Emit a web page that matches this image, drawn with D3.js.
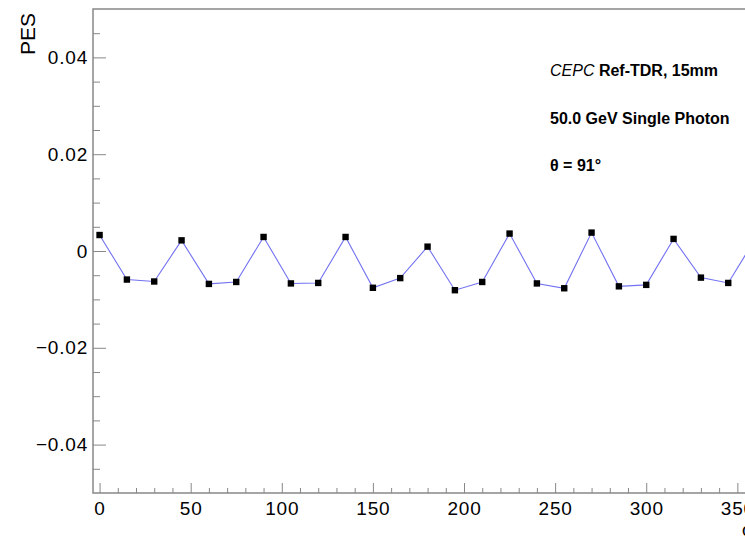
<!DOCTYPE html>
<html>
<head>
<meta charset="utf-8">
<script src="https://cdn.jsdelivr.net/npm/d3@7"></script>
<style>
html, body { margin: 0; padding: 0; background: #fff; overflow: hidden; }
svg { display: block; font-family: "Liberation Sans", Arial, sans-serif; }
</style>
</head>
<body>
<script>
// ---- data ----
const phiValues = [0, 15, 30, 45, 60, 75, 90, 105, 120, 135, 150, 165, 180,
                   195, 210, 225, 240, 255, 270, 285, 300, 315, 330, 345, 360];
const pesValues = [0.0033, -0.0059, -0.0063, 0.0022, -0.0068, -0.0064, 0.0029,
                   -0.0067, -0.0066, 0.0029, -0.0076, -0.0056, 0.0009,
                   -0.0081, -0.0064, 0.0036, -0.0067, -0.0077, 0.0038,
                   -0.0073, -0.0070, 0.0025, -0.0055, -0.0066, 0.0026];
const xMajorTicks = [0, 50, 100, 150, 200, 250, 300, 350];
const yMajorTicks = [-0.04, -0.02, 0, 0.02, 0.04];
const yTickLabels = ["\u22120.04", "\u22120.02", "0", "0.02", "0.04"];
const xDomain = [-3.6, 363.6];
const yDomain = [-0.05, 0.05];
const annotations = ["50.0 GeV Single Photon", "\u03b8 = 91\u00b0"];

// ---- layout ----
const W = 800, H = 542;
const padL = 93, padT = 9;
const padB = 493;
const xScale = d3.scaleLinear().domain(xDomain).range([padL, 99.7 + 367.2 * 1.804]);
const padR = xScale.range()[1];
const yScale = d3.scaleLinear().domain(yDomain).range([padB, padT]);

const svg = d3.select("body").append("svg").attr("width", W).attr("height", H);

const frameColor = "#888";

// frame
svg.append("rect")
  .attr("x", padL).attr("y", padT)
  .attr("width", padR - padL).attr("height", padB - padT)
  .attr("fill", "none").attr("stroke", frameColor).attr("stroke-width", 1.5);

// x minor ticks
const xMinor = d3.range(0, 361, 10).filter(v => v % 50 !== 0);
svg.append("g").attr("transform", `translate(0,${padB})`)
  .call(d3.axisBottom(xScale).tickValues(xMinor).tickSize(-5).tickSizeOuter(0).tickFormat(""))
  .call(g => g.select(".domain").remove())
  .call(g => g.selectAll("line").attr("stroke", frameColor));

// x major ticks
svg.append("g").attr("transform", `translate(0,${padB})`)
  .call(d3.axisBottom(xScale).tickValues(xMajorTicks).tickSize(-10).tickSizeOuter(0).tickPadding(9).tickFormat(d3.format("d")))
  .call(g => g.select(".domain").remove())
  .call(g => g.selectAll("line").attr("stroke", frameColor))
  .call(g => g.selectAll("text").attr("font-size", 19).attr("letter-spacing", 0.8).attr("fill", "#000")
    .attr("font-family", "Liberation Sans, Arial, sans-serif"));

// y minor ticks
const yMinor = d3.range(-9, 10).map(i => i * 0.005).filter(v => Math.abs(Math.round(v * 1000) % 20) !== 0);
svg.append("g").attr("transform", `translate(${padL},0)`)
  .call(d3.axisLeft(yScale).tickValues(yMinor).tickSize(-7).tickSizeOuter(0).tickFormat(""))
  .call(g => g.select(".domain").remove())
  .call(g => g.selectAll("line").attr("stroke", frameColor));

// y major ticks
svg.append("g").attr("transform", `translate(${padL},0)`)
  .call(d3.axisLeft(yScale).tickValues(yMajorTicks).tickSize(-13).tickSizeOuter(0).tickPadding(5)
    .tickFormat((d, i) => yTickLabels[i]))
  .call(g => g.select(".domain").remove())
  .call(g => g.selectAll("line").attr("stroke", frameColor))
  .call(g => g.selectAll("text").attr("font-size", 19).attr("letter-spacing", 0.8).attr("fill", "#000")
    .attr("font-family", "Liberation Sans, Arial, sans-serif"));

// y axis title
svg.append("text")
  .attr("transform", `translate(35,13) rotate(-90)`)
  .attr("text-anchor", "end")
  .attr("font-size", 21)
  .text("PES");

// x axis title (mostly cut off at right edge)
svg.append("text")
  .attr("x", 742).attr("y", 536)
  .attr("font-size", 18)
  .text("\u03c6");

// line
const pts = phiValues.map((p, i) => [p, pesValues[i]]);
svg.append("path")
  .datum(pts)
  .attr("fill", "none")
  .attr("stroke", "#7272f2")
  .attr("stroke-width", 1.1)
  .attr("d", d3.line().x(d => xScale(d[0])).y(d => yScale(d[1])));

// markers
svg.append("g").selectAll("rect").data(pts).join("rect")
  .attr("x", d => xScale(d[0]) - 3.2)
  .attr("y", d => yScale(d[1]) - 3.2)
  .attr("width", 6.4).attr("height", 6.4)
  .attr("fill", "#000");

// annotations
const t1 = svg.append("text").attr("x", 550).attr("y", 76).attr("font-size", 16);
t1.append("tspan").attr("font-style", "italic").text("CEPC");
t1.append("tspan").attr("font-weight", "bold").text(" Ref-TDR, 15mm");

svg.append("text").attr("x", 550).attr("y", 124).attr("font-size", 16)
  .attr("font-weight", "bold").text(annotations[0]);
svg.append("text").attr("x", 550).attr("y", 171).attr("font-size", 16)
  .attr("font-weight", "bold").text(annotations[1]);
</script>
</body>
</html>
